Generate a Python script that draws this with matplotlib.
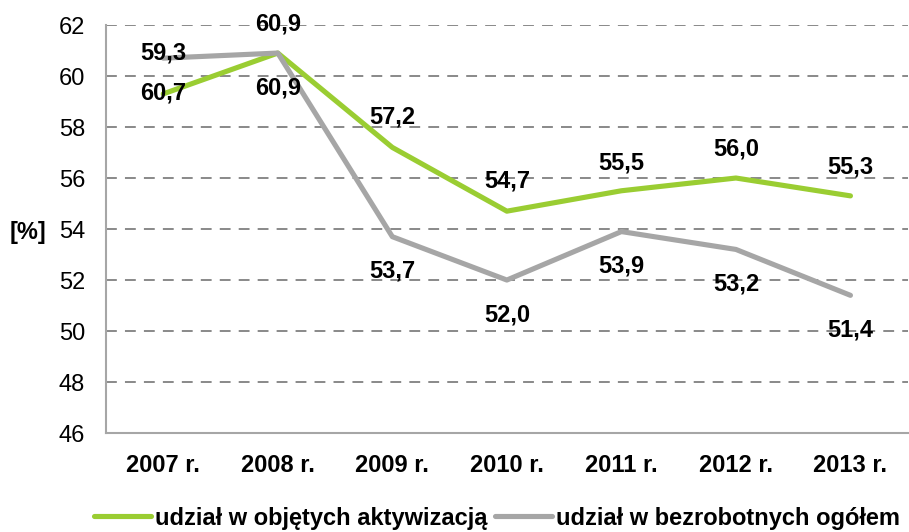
import matplotlib
matplotlib.use("Agg")
import matplotlib.pyplot as plt

# ======================
# DATA
# ======================
years = ["2007 r.", "2008 r.", "2009 r.", "2010 r.", "2011 r.", "2012 r.", "2013 r."]
aktywizacja = [59.3, 60.9, 57.2, 54.7, 55.5, 56.0, 55.3]      # green line
bezrobotni = [60.7, 60.9, 53.7, 52.0, 53.9, 53.2, 51.4]       # gray line
aktywizacja_labels = ["60,7", "60,9", "57,2", "54,7", "55,5", "56,0", "55,3"]
bezrobotni_labels = ["59,3", "60,9", "53,7", "52,0", "53,9", "53,2", "51,4"]
yticks = [46, 48, 50, 52, 54, 56, 58, 60, 62]

# vertical label offsets in points (+ = above point)
green_dy = [0.7, 21, 22, 22, 20, 21, 21]
gray_dy = [3.5, -25, -25, -25, -25, -25, -25]

GREEN = "#9acd32"
GRAY = "#a6a6a6"
FS = 17

plt.rcParams['font.family'] = ['Liberation Sans', 'DejaVu Sans']

# ======================
# PLOT
# ======================
fig = plt.figure(figsize=(9.09, 5.32), dpi=100)
ax = fig.add_axes([0.1166, 0.186, 0.882, 0.767])

x = list(range(len(years)))
ax.plot(x, aktywizacja, color=GREEN, linewidth=3.7, solid_capstyle='round',
        label="udział w objętych aktywizacją", zorder=3)
ax.plot(x, bezrobotni, color=GRAY, linewidth=3.7, solid_capstyle='round',
        label="udział w bezrobotnych ogółem", zorder=3)

# data labels
for i in x:
    ax.annotate(aktywizacja_labels[i], (i, aktywizacja[i]), xytext=(0, green_dy[i]),
                textcoords='offset points', ha='center', va='center',
                fontsize=FS, fontweight='bold', zorder=4)
    ax.annotate(bezrobotni_labels[i], (i, bezrobotni[i]), xytext=(0, gray_dy[i]),
                textcoords='offset points', ha='center', va='center',
                fontsize=FS, fontweight='bold', zorder=4)

ax.set_xlim(-0.5, len(years) - 0.5)
ax.set_ylim(46, 62)
ax.set_xticks(x)
ax.set_xticklabels(years, fontsize=FS, fontweight='bold')
ax.set_yticks(yticks)
ax.set_yticklabels([str(v) for v in yticks], fontsize=FS)
ax.tick_params(axis='both', length=0)
ax.tick_params(axis='y', pad=15)
ax.tick_params(axis='x', pad=15)

# dashed horizontal grid (not on the bottom line)
for v in yticks[1:]:
    ax.axhline(v, color="#808080", linewidth=1.3, linestyle=(0, (6, 4.5)), zorder=1)

for s in ['top', 'right']:
    ax.spines[s].set_visible(False)
for s in ['left', 'bottom']:
    ax.spines[s].set_color("#a6a6a6")
    ax.spines[s].set_linewidth(1.5)

fig.text(28 / 909, 1 - 232 / 532, "[%]", fontsize=FS, fontweight='bold',
         ha='center', va='center')

fig.legend(loc='center', bbox_to_anchor=(497 / 909, 1 - 518 / 532), ncol=2,
           frameon=False, prop={'size': FS, 'weight': 'bold'},
           handlelength=2.4, handletextpad=0.17, columnspacing=0.34,
           borderpad=0, borderaxespad=0)

plt.savefig("out.png", dpi=100)
plt.close()
